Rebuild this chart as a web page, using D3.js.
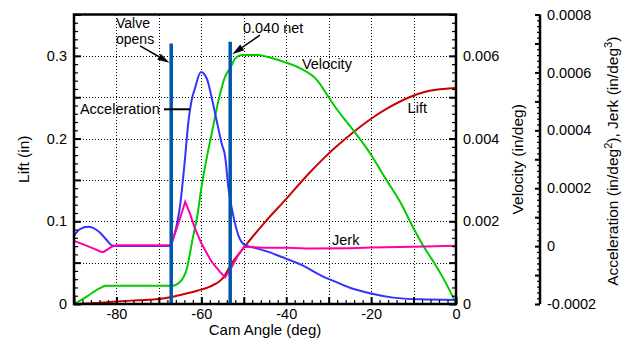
<!DOCTYPE html>
<html>
<head>
<meta charset="utf-8">
<script src="https://cdn.jsdelivr.net/npm/d3@7"></script>
<style>
  body { margin: 0; background: #fff; }
  text { font-family: Arial, "Liberation Sans", sans-serif; fill: #000; }
</style>
</head>
<body>
<svg id="chart" width="637" height="346"></svg>
<script>
// lift (in) vs cam angle (deg)
const liftAngles = [-90, -85, -80, -75, -70, -67, -64, -61, -58, -55, -52.7, -50, -45, -40, -35, -31, -26, -20, -16, -11, -7, -3, 0];
const liftValues = [0, 0.0012, 0.003, 0.0045, 0.006, 0.0085, 0.012, 0.016, 0.021, 0.031, 0.05, 0.068, 0.099, 0.127, 0.156, 0.177, 0.2, 0.224, 0.237, 0.25, 0.257, 0.26, 0.261];

// velocity (in/deg)
const velAngles = [-90, -87, -84, -82.5, -67, -65, -63.4, -62, -61, -60, -58.6, -57.6, -56, -54.4, -53.2, -52, -50.5, -46.6, -44.6, -40.7, -36.7, -32.8, -30, -28.5, -24.2, -20.3, -16.7, -12.8, -10, -7.7, -5.3, -3, -0.6, 0];
const velValues = [0, 0.00018, 0.00038, 0.00044, 0.00044, 0.00054, 0.00086, 0.0016, 0.0021, 0.0028, 0.0036, 0.0041, 0.0049, 0.0055, 0.0057, 0.00594, 0.00602, 0.00602, 0.00598, 0.00586, 0.0057, 0.00542, 0.005, 0.00477, 0.0042, 0.00365, 0.00305, 0.0024, 0.00183, 0.0014, 0.00102, 0.00062, 0.00014, 0];

// acceleration (in/deg^2)
const accAngles = [-90, -88.6, -86.6, -85.5, -83.9, -82.3, -81, -80, -67.3, -66.6, -65, -63.8, -63.1, -62.3, -61.5, -60.1, -58.7, -57.6, -56.4, -55.2, -54.4, -53.6, -52.5, -51.3, -49.7, -47.7, -44.2, -40.3, -36.3, -30.9, -28.9, -25, -20.3, -14.8, -8.5, 0];
const accValues = [0.36e-4, 0.59e-4, 0.67e-4, 0.63e-4, 0.47e-4, 0.21e-4, 0.02e-4, 0, 0, 0.27e-4, 1.41e-4, 3.1e-4, 4.23e-4, 5.03e-4, 5.45e-4, 6.01e-4, 5.78e-4, 5.15e-4, 4.34e-4, 3.54e-4, 3.1e-4, 1.99e-4, 1.07e-4, 0.38e-4, 0.03e-4, -0.05e-4, -0.2e-4, -0.42e-4, -0.66e-4, -1.08e-4, -1.2e-4, -1.44e-4, -1.63e-4, -1.78e-4, -1.84e-4, -1.86e-4];

// jerk (in/deg^3)
const jerkAngles = [-90, -87.8, -85.5, -83.5, -83, -81.1, -80, -67.3, -66.6, -65, -63.8, -62.7, -61.5, -60, -57.6, -55.6, -54.4, -52.8, -51.3, -49.9, -45, -40, -35, -25, -20, -10, 0];
const jerkValues = [0.18e-4, 0.06e-4, -0.08e-4, -0.2e-4, -0.2e-4, -0.02e-4, 0.03e-4, 0.03e-4, 0.27e-4, 0.96e-4, 1.53e-4, 1.13e-4, 0.61e-4, 0.1e-4, -0.54e-4, -0.89e-4, -1.08e-4, -0.71e-4, -0.31e-4, -0.02e-4, -0.06e-4, -0.06e-4, -0.08e-4, -0.07e-4, -0.05e-4, -0.02e-4, 0.01e-4];

// event markers: cam angle and top of the bar in lift units
const markerAngles = [-67.1, -53.2];
const markerTops = [0.315, 0.317];

// tick labels
const angleTicks = [-80, -60, -40, -20, 0];
const liftTicks = [0, 0.1, 0.2, 0.3];
const velTicks = [0, 0.002, 0.004, 0.006];
const accTicks = [-0.0002, 0, 0.0002, 0.0004, 0.0006, 0.0008];

const svg = d3.select("#chart");

const plotLeft = 74, plotRight = 456, plotTop = 14.5, plotBottom = 304;
const accAxisX = 540;

const x = d3.scaleLinear().domain([-90, 0]).range([plotLeft, plotRight]);
const yLift = d3.scaleLinear().domain([0, 0.35]).range([plotBottom, plotTop]);
const yVel = d3.scaleLinear().domain([0, 0.007]).range([plotBottom, plotTop]);
const yAcc = d3.scaleLinear().domain([-0.0002, 0.0008]).range([plotBottom, plotTop]);

const steps = (a, b, s) => d3.range(Math.round((b - a) / s) + 1).map(i => +(a + i * s).toFixed(6));

// dotted grid
const grid = svg.append("g").attr("stroke", "#000").attr("stroke-width", 1)
  .attr("stroke-dasharray", "1,2").attr("shape-rendering", "crispEdges");
grid.selectAll(".vg").data(steps(-80, -10, 10)).enter().append("line")
  .attr("x1", d => Math.round(x(d)) + 0.5).attr("x2", d => Math.round(x(d)) + 0.5)
  .attr("y1", plotTop).attr("y2", plotBottom);
grid.selectAll(".hg").data(steps(0.05, 0.3, 0.05)).enter().append("line")
  .attr("x1", plotLeft).attr("x2", plotRight)
  .attr("y1", d => Math.round(yLift(d)) + 0.5).attr("y2", d => Math.round(yLift(d)) + 0.5);

// curves
function curve(angles, values, yScale, color, shape) {
  const pts = angles.map((a, i) => [a, values[i]]);
  svg.append("path")
    .datum(pts)
    .attr("fill", "none")
    .attr("stroke", color)
    .attr("stroke-width", 2)
    .attr("d", d3.line().x(d => x(d[0])).y(d => yScale(d[1])).curve(shape));
}
curve(liftAngles, liftValues, yLift, "#cc0000", d3.curveMonotoneX);
curve(velAngles, velValues, yVel, "#00cc00", d3.curveMonotoneX);
curve(accAngles, accValues, yAcc, "#3333ff", d3.curveMonotoneX);
curve(jerkAngles, jerkValues, yAcc, "#ff00a8", d3.curveLinear);

// event marker bars
svg.selectAll(".marker").data(markerAngles).enter().append("line")
  .attr("x1", d => x(d)).attr("x2", d => x(d))
  .attr("y1", (d, i) => yLift(markerTops[i])).attr("y2", plotBottom)
  .attr("stroke", "#0055aa").attr("stroke-width", 3.5);

// annotations
const fs = 14.5;
function label(a, l, str, size) {
  return svg.append("text").attr("x", x(a)).attr("y", yLift(l))
    .attr("font-size", size || fs).text(str);
}
label(-80.1, 0.3335, "Valve", 14);
label(-80.1, 0.3141, "opens", 14);
label(-50.2, 0.3277, "0.040 net");
label(-36.3, 0.2842, "Velocity");
label(-11.4, 0.231, "Lift");
label(-88.6, 0.2297, "Acceleration");
label(-29.2, 0.0713, "Jerk");

function arrow(a0, l0, a1, l1) {
  const x0 = x(a0), y0 = yLift(l0), x1 = x(a1), y1 = yLift(l1);
  const ang = Math.atan2(y1 - y0, x1 - x0);
  const len = 12, hw = 3.5;
  const bx = x1 - len * Math.cos(ang), by = y1 - len * Math.sin(ang);
  svg.append("line").attr("x1", x0).attr("y1", y0).attr("x2", bx).attr("y2", by)
    .attr("stroke", "#000").attr("stroke-width", 1.5);
  svg.append("path")
    .attr("d", `M${x1},${y1}L${bx - hw * Math.sin(ang)},${by + hw * Math.cos(ang)}L${bx + hw * Math.sin(ang)},${by - hw * Math.cos(ang)}Z`)
    .attr("fill", "#000");
}
arrow(-74.45, 0.312, -67.5, 0.2918);
arrow(-46.2, 0.325, -52.7, 0.302);

// leader from the Acceleration label
svg.append("line")
  .attr("x1", x(-68.8)).attr("x2", x(-62.7))
  .attr("y1", yLift(0.2354)).attr("y2", yLift(0.2354))
  .attr("stroke", "#000").attr("stroke-width", 2);

// axes
function styleAxis(g, w) {
  g.select(".domain").remove();
  g.selectAll(".tick line").attr("stroke", "#000").attr("stroke-width", w);
  g.attr("font-family", null).attr("font-size", null);
  g.selectAll("text").attr("font-size", fs).attr("fill", "#000");
}
function axisSet(make, scale, pos, minor, major, labels, fmt, pad, minLen, majLen) {
  svg.append("g").attr("transform", pos)
    .call(make(scale).tickValues(minor).tickSize(-minLen).tickFormat(""))
    .call(g => styleAxis(g, 1.2));
  svg.append("g").attr("transform", pos)
    .call(make(scale).tickValues(major).tickSize(-majLen).tickFormat(""))
    .call(g => styleAxis(g, 2));
  svg.append("g").attr("transform", pos)
    .call(make(scale).tickValues(labels).tickSize(0).tickPadding(pad).tickFormat(fmt))
    .call(g => styleAxis(g, 0));
}

axisSet(d3.axisBottom, x, `translate(0,${plotBottom})`,
  steps(-90, 0, 2), steps(-90, 0, 10), angleTicks, d => String(d), 5, 4, 7);
axisSet(d3.axisLeft, yLift, `translate(${plotLeft},0)`,
  steps(0, 0.35, 0.01), steps(0, 0.35, 0.05), liftTicks, d => d === 0 ? "0" : d.toFixed(1), 7, 4, 7);
axisSet(d3.axisRight, yVel, `translate(${plotRight},0)`,
  steps(0, 0.007, 0.0002), steps(0, 0.007, 0.001), velTicks, d => d === 0 ? "0" : d.toFixed(3), 7, 4, 7);
axisSet(d3.axisRight, yAcc, `translate(${accAxisX},0)`,
  steps(-0.0002, 0.0008, 0.00002), steps(-0.0002, 0.0008, 0.0001), accTicks, d => d === 0 ? "0" : d.toFixed(4), 7, 3, 5);

// plot frame and the third axis line
svg.append("rect").attr("x", plotLeft).attr("y", plotTop)
  .attr("width", plotRight - plotLeft).attr("height", plotBottom - plotTop)
  .attr("fill", "none").attr("stroke", "#000").attr("stroke-width", 2.5);
svg.append("line").attr("x1", accAxisX).attr("x2", accAxisX)
  .attr("y1", plotTop).attr("y2", plotBottom)
  .attr("stroke", "#000").attr("stroke-width", 2.5);

// axis titles
const midY = (plotTop + plotBottom) / 2;
svg.append("text").attr("x", (plotLeft + plotRight) / 2).attr("y", 335)
  .attr("text-anchor", "middle").attr("font-size", 15).text("Cam Angle (deg)");
svg.append("text").attr("transform", `translate(29,${midY}) rotate(-90)`)
  .attr("text-anchor", "middle").attr("font-size", 15.5).text("Lift (in)");
svg.append("text").attr("transform", `translate(523,${midY}) rotate(-90)`)
  .attr("text-anchor", "middle").attr("font-size", 15.5).text("Velocity (in/deg)");
const at = svg.append("text").attr("transform", `translate(618,${midY + 2}) rotate(-90)`)
  .attr("text-anchor", "middle").attr("font-size", 15.5);
at.append("tspan").text("Acceleration (in/deg");
at.append("tspan").attr("font-size", 11).attr("dy", -6).text("2");
at.append("tspan").attr("dy", 6).text("), Jerk (in/deg");
at.append("tspan").attr("font-size", 11).attr("dy", -6).text("3");
at.append("tspan").attr("dy", 6).text(")");
</script>
</body>
</html>
